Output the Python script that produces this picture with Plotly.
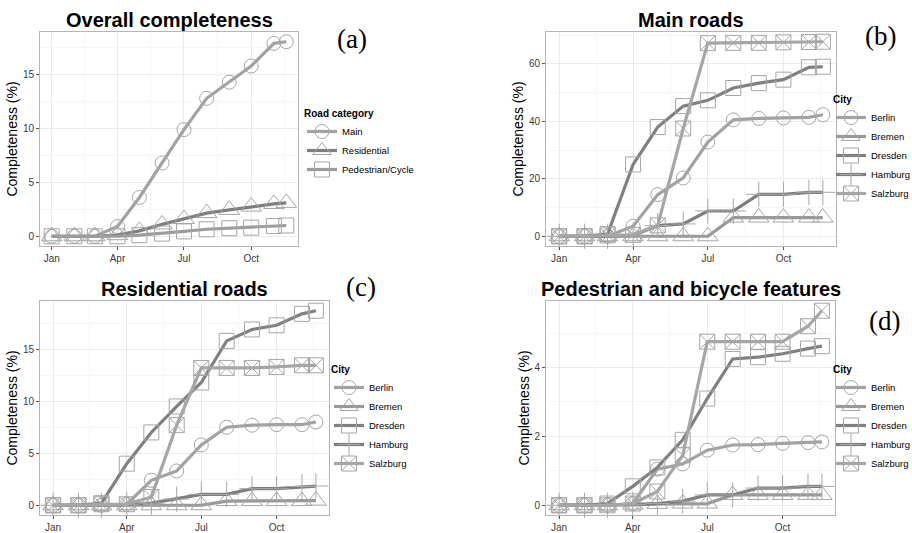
import plotly.graph_objects as go
from datetime import date, timedelta

# ---------------- data ----------------
DATES = ["2013-01-01", "2013-02-01", "2013-03-01", "2013-04-01", "2013-05-01", "2013-06-01",
         "2013-07-01", "2013-08-01", "2013-09-01", "2013-10-01", "2013-11-01", "2013-11-18"]
TICK_DATES = ["2013-01-01", "2013-04-01", "2013-07-01", "2013-10-01"]
TICK_LABELS = ["Jan", "Apr", "Jul", "Oct"]

CATEGORIES = ["Main", "Residential", "Pedestrian/Cycle"]
OVERALL_MAIN = [0, 0, 0, 0.9, 3.6, 6.8, 9.9, 12.8, 14.3, 15.8, 17.9, 18.05]
OVERALL_RESIDENTIAL = [0, 0, 0, 0.1, 0.5, 1.1, 1.6, 2.15, 2.45, 2.75, 3.0, 3.1]
OVERALL_PEDESTRIAN = [0, 0, 0, 0.0, 0.1, 0.25, 0.45, 0.65, 0.75, 0.8, 0.95, 1.0]

CITIES = ["Berlin", "Bremen", "Dresden", "Hamburg", "Salzburg"]
MAIN_BERLIN = [0, 0, 0, 3.5, 14.5, 20.3, 32.8, 40.5, 41.0, 41.2, 41.4, 42.3]
MAIN_BREMEN = [0, 0, 0, 0, 0, 0, 0, 6.5, 6.5, 6.5, 6.5, 6.5]
MAIN_DRESDEN = [0, 0, 0.8, 25.0, 38.0, 45.3, 47.3, 51.6, 53.3, 54.5, 58.8, 59.0]
MAIN_HAMBURG = [0, 0, 0, 0.3, 3.7, 4.3, 8.8, 8.8, 14.6, 14.6, 15.3, 15.3]
MAIN_SALZBURG = [0, 0, 0.3, 0.5, 3.8, 37.5, 67.2, 67.3, 67.3, 67.5, 67.6, 67.7]

RES_BERLIN = [0, 0, 0, 0.1, 2.4, 3.3, 5.8, 7.5, 7.7, 7.75, 7.75, 8.0]
RES_BREMEN = [0, 0, 0, 0, 0, 0, 0, 0.4, 0.4, 0.4, 0.4, 0.45]
RES_DRESDEN = [0, 0, 0.2, 4.0, 7.0, 9.5, 11.8, 15.8, 16.9, 17.3, 18.4, 18.7]
RES_HAMBURG = [0, 0, 0, 0.05, 0.2, 0.6, 1.05, 1.05, 1.6, 1.6, 1.8, 1.85]
RES_SALZBURG = [0, 0, 0.1, 0.1, 0.8, 7.7, 13.2, 13.2, 13.2, 13.3, 13.45, 13.45]

PED_BERLIN = [0, 0, 0, 0.05, 1.05, 1.2, 1.6, 1.75, 1.76, 1.8, 1.82, 1.84]
PED_BREMEN = [0, 0, 0, 0.02, 0.04, 0.05, 0.05, 0.3, 0.3, 0.3, 0.3, 0.3]
PED_DRESDEN = [0, 0, 0.05, 0.55, 1.1, 1.9, 3.1, 4.25, 4.3, 4.4, 4.55, 4.62]
PED_HAMBURG = [0, 0, 0, 0.02, 0.05, 0.12, 0.3, 0.3, 0.5, 0.5, 0.55, 0.55]
PED_SALZBURG = [0, 0, 0, 0.05, 0.4, 1.45, 4.75, 4.75, 4.75, 4.75, 5.2, 5.65]

# ---------------- styles ----------------
FONT = "Liberation Sans, Arial, sans-serif"
MARKER_COLOR = "#a6a6a6"
CAT_STYLE = {
    "Main": dict(symbol="circle-open", size=14, line="#a2a2a2"),
    "Residential": dict(symbol="triangle-up-open", size=18, line="#7f7f7f"),
    "Pedestrian/Cycle": dict(symbol="square-open", size=15, line="#9c9c9c"),
}
CITY_STYLE = {
    "Berlin": dict(symbol="circle-open", size=14, line="#a2a2a2"),
    "Bremen": dict(symbol="triangle-up-open", size=18, line="#999999"),
    "Dresden": dict(symbol="square-open", size=15, line="#808080"),
    "Hamburg": dict(symbol="cross-thin-open", size=18, line="#7d7d7d"),
    "Salzburg": dict(symbol="square-x-open", size=15, line="#a6a6a6"),
}

W, H = 912, 533


def px_x(a, b):
    return [a / W, b / W]


def px_y(top, bottom):
    return [1 - bottom / H, 1 - top / H]


PANELS = [
    dict(ax="", dx=px_x(40, 298), dy=px_y(32, 246), dtick=5, title="Overall completeness",
         tag="(a)", tagpos=(352, 39), legend="legend"),
    dict(ax="2", dx=px_x(546, 836), dy=px_y(32, 246), dtick=20, title="Main roads",
         tag="(b)", tagpos=(880, 36), legend="legend2"),
    dict(ax="3", dx=px_x(40, 329), dy=px_y(301, 515), dtick=5, title="Residential roads",
         tag="(c)", tagpos=(361, 287), legend="legend3"),
    dict(ax="4", dx=px_x(546, 835), dy=px_y(301, 515), dtick=2, title="Pedestrian and bicycle features",
         tag="(d)", tagpos=(884, 321), legend="legend4"),
]

SERIES = [
    (CATEGORIES, [OVERALL_MAIN, OVERALL_RESIDENTIAL, OVERALL_PEDESTRIAN], CAT_STYLE),
    (CITIES, [MAIN_BERLIN, MAIN_BREMEN, MAIN_DRESDEN, MAIN_HAMBURG, MAIN_SALZBURG], CITY_STYLE),
    (CITIES, [RES_BERLIN, RES_BREMEN, RES_DRESDEN, RES_HAMBURG, RES_SALZBURG], CITY_STYLE),
    (CITIES, [PED_BERLIN, PED_BREMEN, PED_DRESDEN, PED_HAMBURG, PED_SALZBURG], CITY_STYLE),
]

LEGEND_TITLES = ["Road category", "City", "City", "City"]
LEGEND_POS = [(302, 104), (831, 90), (329, 360), (831, 360)]

fig = go.Figure()

# date range with ggplot-like 5% expansion
d0 = date.fromisoformat(DATES[0])
d1 = date.fromisoformat(DATES[-1])
span = (d1 - d0).days
pad = timedelta(days=span * 0.05)
xrange = [str(d0 - pad), str(d1 + pad)]

# minor gridline positions midway between major date ticks
tick_d = [date.fromisoformat(t) for t in TICK_DATES]
step = tick_d[1] - tick_d[0]
ext = [tick_d[0] - step] + tick_d + [tick_d[-1] + step]
minor_vals = [str(ext[i] + (ext[i + 1] - ext[i]) / 2) for i in range(len(ext) - 1)]

annotations = []
for p, (names, vals, style), ltitle, lpos in zip(PANELS, SERIES, LEGEND_TITLES, LEGEND_POS):
    xa = "x" + p["ax"]
    ya = "y" + p["ax"]
    for name, v in zip(names, vals):
        st = style[name]
        fig.add_trace(go.Scatter(
            x=DATES, y=v, name=name, mode="lines+markers",
            xaxis=xa, yaxis=ya, legend=p["legend"],
            line=dict(color=st["line"], width=3.2),
            marker=dict(symbol=st["symbol"], size=st["size"], color=MARKER_COLOR,
                        line=dict(color=MARKER_COLOR, width=1)),
            cliponaxis=False,
        ))
    allv = [x for s in vals for x in s]
    lo, hi = min(allv), max(allv)
    ypad = (hi - lo) * 0.05
    axis_common = dict(
        showgrid=True, gridcolor="#ebebeb", gridwidth=1,
        showline=True, linecolor="#b5b5b5", linewidth=1, mirror=True,
        ticks="outside", ticklen=3, tickcolor="#555555", tickwidth=1,
        tickfont=dict(family=FONT, size=10, color="#3a3a3a"),
        zeroline=False, automargin=False,
    )
    fig.layout["xaxis" + p["ax"]] = dict(
        axis_common, domain=p["dx"], anchor=ya, type="date", range=xrange,
        tickmode="array", tickvals=TICK_DATES, ticktext=TICK_LABELS,
        minor=dict(showgrid=True, gridcolor="#f6f6f6", tickmode="array", tickvals=minor_vals, ticks=""),
    )
    fig.layout["yaxis" + p["ax"]] = dict(
        axis_common, domain=p["dy"], anchor=xa, range=[lo - ypad, hi + ypad],
        tickmode="linear", tick0=0, dtick=p["dtick"],
        minor=dict(showgrid=True, gridcolor="#f6f6f6", dtick=p["dtick"] / 2, ticks=""),
        title=dict(text="Completeness (%)", font=dict(family=FONT, size=14, color="#000"), standoff=1),
    )
    cx = (p["dx"][0] + p["dx"][1]) / 2
    annotations.append(dict(
        text="<b>" + p["title"] + "</b>", x=cx, y=p["dy"][1], xref="paper", yref="paper",
        xanchor="center", yanchor="bottom", yshift=-1, showarrow=False,
        font=dict(family=FONT, size=20, color="#000"),
    ))
    annotations.append(dict(
        text=p["tag"], x=p["tagpos"][0] / W, y=1 - p["tagpos"][1] / H, xref="paper", yref="paper",
        xanchor="center", yanchor="middle", showarrow=False,
        font=dict(family="Liberation Serif, Times New Roman, serif", size=27, color="#000"),
    ))
    fig.layout[p["legend"]] = dict(
        title=dict(text="<b>" + ltitle + "</b>", font=dict(family=FONT, size=10, color="#000")),
        x=lpos[0] / W, y=1 - lpos[1] / H, xanchor="left", yanchor="top",
        xref="paper", yref="paper",
        font=dict(family=FONT, size=9.5, color="#000"),
        bgcolor="rgba(0,0,0,0)", tracegroupgap=0, itemwidth=30,
    )

fig.update_layout(
    width=W, height=H, margin=dict(l=0, r=0, t=0, b=0, autoexpand=False),
    paper_bgcolor="white", plot_bgcolor="white",
    showlegend=True, annotations=annotations,
    font=dict(family=FONT),
)

fig.write_html("out.html", config={"displayModeBar": False},
               post_script="document.body.style.margin='0';")
